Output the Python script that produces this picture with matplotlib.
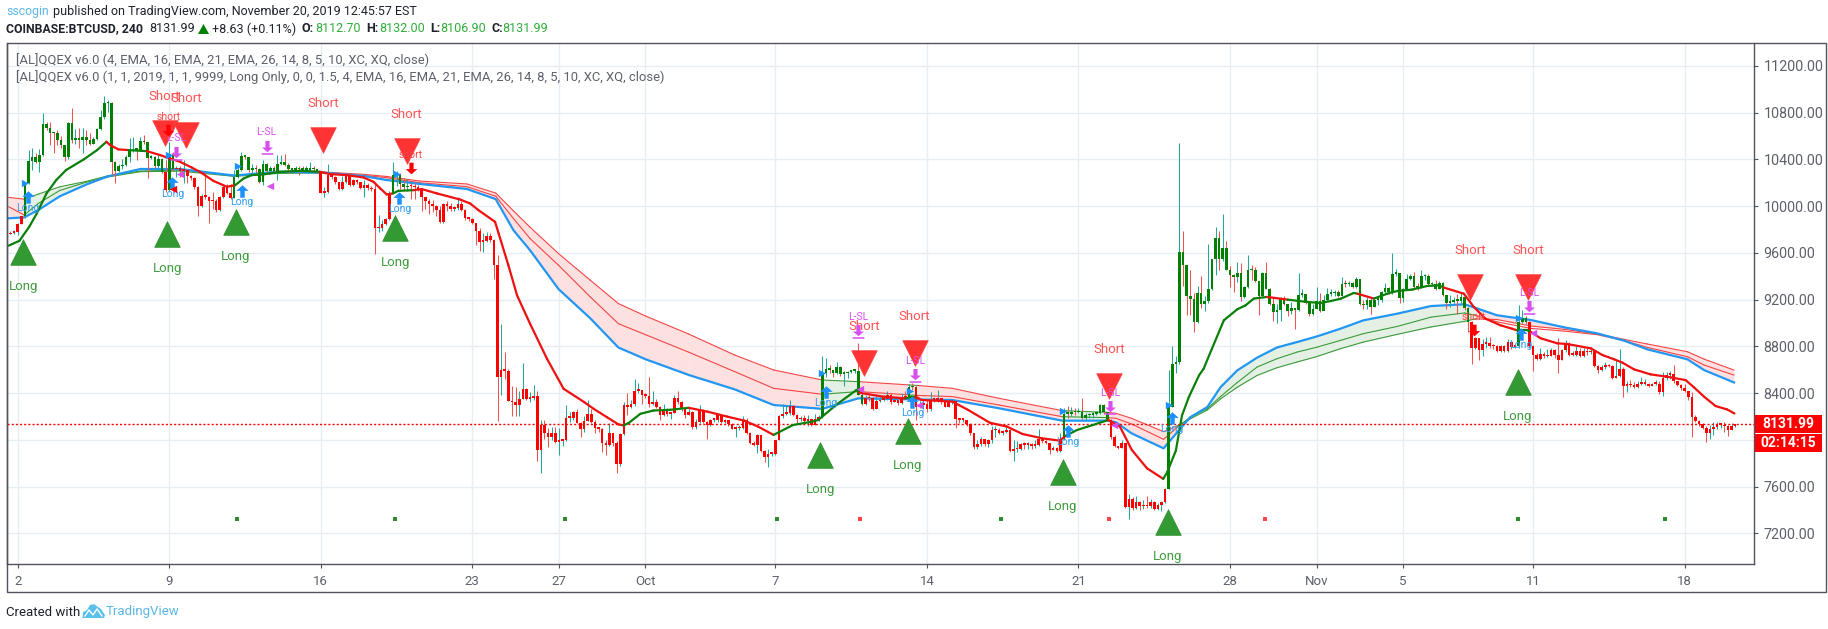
import numpy as np
import matplotlib
matplotlib.use("Agg")
import matplotlib.pyplot as plt
from matplotlib.path import Path
from matplotlib.patches import Polygon, Rectangle

plt.rcParams['font.family'] = ['Roboto', 'DejaVu Sans']

W, H = 1828, 629
FIRST_BAR = -2

# 4h candles, Sep 2 to Nov 20. each open is the previous close
closes = [
    9770, 9775,
    9850, 9914, 10194, 10386, 10417, 10380, 10437, 10700, 10665, 10630,
    10625, 10565, 10520, 10420, 10710, 10570, 10585, 10570, 10590, 10570,
    10535, 10575, 10660, 10760, 10880, 10885, 10380, 10300, 10340, 10350,
    10425, 10470, 10485, 10480, 10555, 10545, 10415, 10420, 10340, 10400,
    10295, 10135, 10450, 10315, 10330, 10300, 10310, 10260, 10240, 10165,
    10000, 10090, 10080, 10045, 10040, 9965, 10075, 10160, 10110, 10074,
    10250, 10310, 10430, 10425, 10310, 10320, 10315, 10210, 10365, 10300,
    10330, 10305, 10365, 10380, 10355, 10315, 10310, 10330, 10315, 10310,
    10310, 10320, 10315, 10290, 10115, 10120, 10270, 10250, 10210, 10150,
    10210, 10265, 10180, 10220, 10205, 10155, 10180, 10155, 10145, 9810,
    9815, 9850, 9890, 10110, 10265, 10270, 10190, 10160, 10175, 10170,
    10160, 10140, 10075, 10045, 10020, 10000, 9965, 9865, 10020, 10000,
    9980, 9985, 10020, 9970, 9895, 9890, 9855, 9790, 9694, 9705,
    9745, 9710, 9500, 8537, 8600, 8590, 8335, 8320, 8300, 8350,
    8435, 8350, 8355, 8375, 7915, 8130, 8060, 8020, 8055, 7985,
    7990, 8000, 8190, 8190, 8235, 8145, 8090, 8165, 8225, 8150,
    8105, 8095, 7975, 7955, 8055, 7970, 7790, 8050, 8300, 8280,
    8305, 8420, 8425, 8380, 8375, 8310, 8320, 8280, 8210, 8255,
    8225, 8230, 8360, 8325, 8260, 8215, 8240, 8110, 8155, 8250,
    8155, 8130, 8170, 8170, 8210, 8155, 8170, 8135, 8095, 8100,
    8105, 8170, 8060, 7970, 7955, 8040, 7905, 7855, 7880, 7880,
    7995, 8200, 8225, 8230, 8290, 8210, 8175, 8190, 8165, 8175,
    8130, 8175, 8195, 8570, 8610, 8600, 8570, 8620, 8565, 8570,
    8580, 8590, 8590, 8385, 8310, 8360, 8355, 8265, 8330, 8345,
    8350, 8385, 8320, 8340, 8315, 8370, 8360, 8455, 8450, 8280,
    8300, 8310, 8260, 8340, 8345, 8355, 8320, 8285, 8320, 8330,
    8175, 8170, 8170, 8135, 8055, 7940, 7960, 8005, 7965, 7995,
    8080, 8085, 8060, 8065, 8080, 7905, 7920, 7925, 7960, 7955,
    7955, 7950, 7955, 8005, 7990, 7970, 7915, 7930, 7905, 8010,
    8225, 8220, 8240, 8235, 8240, 8190, 8210, 8215, 8225, 8230,
    8300, 8235, 8170, 8025, 7945, 7930, 7970, 7425, 7490, 7420,
    7470, 7430, 7440, 7430, 7470, 7410, 7440, 7470, 7580, 8280,
    8645, 8670, 9610, 9495, 9230, 9205, 9010, 9260, 9160, 9185,
    9290, 9545, 9730, 9545, 9640, 9455, 9415, 9395, 9425, 9220,
    9305, 9455, 9450, 9360, 9235, 9430, 9295, 9165, 9095, 9110,
    9210, 9160, 9105, 9125, 9110, 9240, 9250, 9170, 9080, 9120,
    9190, 9100, 9200, 9250, 9255, 9265, 9230, 9335, 9330, 9345,
    9310, 9375, 9165, 9150, 9195, 9135, 9200, 9200, 9265, 9300,
    9265, 9420, 9425, 9215, 9290, 9380, 9405, 9310, 9300, 9400,
    9400, 9330, 9335, 9295, 9340, 9240, 9175, 9180, 9195, 9190,
    9220, 9125, 9010, 8790, 8870, 8765, 8820, 8825, 8805, 8800,
    8760, 8800, 8760, 8835, 8795, 8800, 9010, 9040, 9010, 8800,
    8725, 8695, 8735, 8715, 8720, 8765, 8725, 8680, 8770, 8815,
    8730, 8730, 8760, 8715, 8760, 8750, 8760, 8630, 8600, 8620,
    8640, 8630, 8525, 8545, 8610, 8460, 8470, 8465, 8450, 8480,
    8480, 8480, 8460, 8480, 8480, 8410, 8525, 8555, 8560, 8500,
    8470, 8440, 8420, 8370, 8197, 8165, 8135, 8105, 8060, 8090,
    8110, 8130, 8130, 8115, 8080, 8120, 8132,
]
highs = [
    9790, 9800,
    9860, 9920, 10200, 10480, 10494, 10451, 10486, 10794, 10723, 10723,
    10637, 10650, 10600, 10525, 10720, 10837, 10657, 10666, 10666, 10651,
    10623, 10594, 10670, 10823, 10943, 10908, 10890, 10390, 10360, 10400,
    10440, 10580, 10594, 10500, 10594, 10608, 10550, 10437, 10430, 10437,
    10410, 10394, 10550, 10460, 10340, 10340, 10394, 10320, 10270, 10250,
    10170, 10100, 10294, 10090, 10120, 10060, 10090, 10180, 10190, 10190,
    10310, 10340, 10465, 10437, 10420, 10360, 10350, 10325, 10394, 10370,
    10340, 10340, 10437, 10437, 10445, 10370, 10330, 10340, 10340, 10340,
    10340, 10380, 10340, 10320, 10295, 10165, 10360, 10280, 10260, 10210,
    10260, 10275, 10270, 10230, 10230, 10210, 10220, 10200, 10170, 10210,
    9925, 9880, 9900, 10130, 10380, 10300, 10280, 10240, 10230, 10200,
    10200, 10180, 10150, 10080, 10065, 10050, 10010, 10000, 10030, 10040,
    10030, 10000, 10075, 10040, 9980, 9910, 9900, 9860, 9810, 9770,
    9780, 9770, 9720, 9580, 8994, 8750, 8610, 8460, 8450, 8420,
    8660, 8440, 8410, 8465, 8420, 8170, 8170, 8100, 8110, 8110,
    8105, 8010, 8295, 8240, 8250, 8260, 8150, 8205, 8340, 8260,
    8170, 8110, 8100, 8000, 8140, 8060, 7990, 8060, 8320, 8400,
    8340, 8520, 8490, 8430, 8400, 8540, 8420, 8350, 8290, 8310,
    8270, 8240, 8380, 8420, 8330, 8270, 8280, 8250, 8180, 8300,
    8260, 8160, 8180, 8185, 8230, 8220, 8180, 8170, 8140, 8120,
    8130, 8200, 8190, 8070, 7990, 8050, 8045, 7910, 7925, 7900,
    8000, 8210, 8310, 8295, 8345, 8300, 8220, 8200, 8215, 8210,
    8180, 8220, 8210, 8717, 8700, 8640, 8600, 8670, 8630, 8585,
    8590, 8600, 8600, 8825, 8410, 8380, 8385, 8365, 8385, 8380,
    8385, 8415, 8400, 8370, 8360, 8400, 8415, 8480, 8490, 8460,
    8330, 8340, 8340, 8410, 8370, 8425, 8360, 8330, 8330, 8350,
    8340, 8180, 8180, 8170, 8140, 8060, 8000, 8020, 8010, 8005,
    8120, 8120, 8100, 8080, 8125, 8090, 8000, 7990, 7970, 7985,
    7985, 7975, 8000, 8095, 8000, 8000, 7975, 7950, 7940, 8055,
    8270, 8290, 8280, 8275, 8270, 8355, 8230, 8230, 8240, 8250,
    8310, 8310, 8240, 8180, 8040, 7950, 8000, 7975, 7535, 7510,
    7515, 7480, 7485, 7515, 7490, 7475, 7460, 7480, 7590, 8600,
    8800, 8720, 10537, 9790, 9500, 9455, 9255, 9320, 9400, 9235,
    9675, 9550, 9825, 9785, 9935, 9700, 9485, 9420, 9525, 9510,
    9320, 9580, 9500, 9480, 9360, 9440, 9525, 9300, 9220, 9165,
    9220, 9235, 9165, 9180, 9130, 9430, 9290, 9250, 9180, 9160,
    9310, 9260, 9240, 9300, 9290, 9280, 9280, 9390, 9365, 9360,
    9350, 9390, 9290, 9195, 9225, 9220, 9215, 9215, 9275, 9345,
    9310, 9600, 9465, 9430, 9300, 9420, 9420, 9440, 9345, 9450,
    9420, 9420, 9350, 9370, 9360, 9350, 9240, 9240, 9225, 9250,
    9255, 9240, 9135, 9020, 8880, 8870, 8865, 8880, 8880, 8820,
    8815, 8810, 8810, 8865, 8850, 8820, 9150, 9110, 9060, 9020,
    8810, 8740, 8790, 8750, 8775, 8790, 8780, 8870, 8780, 8855,
    8840, 8760, 8800, 8790, 8790, 8785, 8780, 8770, 8640, 8640,
    8670, 8650, 8640, 8680, 8775, 8620, 8500, 8510, 8495, 8505,
    8540, 8520, 8490, 8490, 8510, 8500, 8580, 8580, 8590, 8640,
    8505, 8480, 8480, 8420, 8410, 8210, 8170, 8140, 8120, 8130,
    8150, 8150, 8145, 8150, 8130, 8145, 8132,
]
lows = [
    9760, 9760,
    9750, 9845, 9900, 10190, 10309, 10370, 10294, 10430, 10650, 10523,
    10451, 10523, 10500, 10389, 10400, 10540, 10531, 10494, 10457, 10523,
    10520, 10530, 10570, 10650, 10750, 10808, 10266, 10194, 10290, 10320,
    10340, 10380, 10460, 10394, 10470, 10531, 10237, 10400, 10330, 10330,
    10280, 10120, 10130, 10300, 10250, 10250, 10194, 10200, 10220, 10150,
    9917, 9990, 10060, 9857, 9980, 9950, 9960, 10070, 10100, 10060,
    10070, 10240, 10300, 10400, 10290, 10270, 10280, 10195, 10180, 10290,
    10280, 10290, 10223, 10350, 10340, 10280, 10290, 10290, 10265, 10290,
    10290, 10290, 10295, 10280, 10110, 10075, 10110, 10230, 10190, 10140,
    10140, 10200, 10170, 10170, 10190, 10150, 10080, 10140, 10130, 9594,
    9780, 9790, 9840, 9880, 10110, 10170, 10150, 10140, 10130, 10065,
    10065, 10130, 9960, 9980, 9930, 9950, 9920, 9860, 9860, 9960,
    9960, 9960, 9970, 9960, 9880, 9870, 9850, 9665, 9614, 9610,
    9690, 9690, 9380, 8160, 8380, 8520, 8330, 8200, 8200, 8200,
    8350, 8340, 8320, 8340, 7823, 7715, 8010, 7935, 8000, 7970,
    7870, 7950, 7990, 8150, 8170, 8140, 8025, 8065, 8160, 8140,
    8060, 8070, 7895, 7870, 7945, 7950, 7720, 7780, 8040, 8210,
    8270, 8290, 8400, 8305, 8360, 8280, 8300, 8270, 8170, 8200,
    8200, 8180, 8230, 8310, 8250, 8190, 8210, 8090, 8090, 8140,
    8140, 8010, 8120, 8150, 8150, 8145, 8140, 8120, 8090, 8025,
    8080, 8090, 8050, 7960, 7945, 7885, 7900, 7810, 7770, 7860,
    7870, 8000, 8190, 8210, 8210, 8200, 8145, 8160, 8150, 8115,
    8120, 8125, 8165, 8185, 8540, 8570, 8540, 8560, 8550, 8460,
    8525, 8570, 8570, 8380, 8300, 8300, 8330, 8255, 8260, 8320,
    8330, 8340, 8310, 8320, 8300, 8310, 8350, 8350, 8430, 8170,
    8270, 8260, 8240, 8250, 8320, 8320, 8310, 8280, 8280, 8310,
    8097, 8140, 8155, 8120, 8040, 7925, 7920, 7950, 7950, 7940,
    7970, 8025, 8050, 8045, 8055, 7900, 7820, 7900, 7915, 7920,
    7920, 7925, 7930, 7945, 7970, 7960, 7880, 7910, 7900, 7900,
    8000, 8190, 8200, 8215, 8230, 8180, 8170, 8190, 8190, 8210,
    8225, 8220, 8160, 8010, 7935, 7925, 7930, 7420, 7320, 7400,
    7410, 7400, 7410, 7415, 7420, 7400, 7400, 7395, 7460, 7575,
    8280, 8570, 8650, 9320, 9065, 9065, 8920, 9000, 9125, 9100,
    9170, 9280, 9410, 9455, 9530, 9450, 9310, 9265, 9350, 9190,
    9210, 9300, 9365, 9350, 9065, 9225, 9290, 9150, 9015, 9000,
    9015, 9150, 9060, 9080, 8950, 9100, 9225, 9160, 9060, 9070,
    9120, 9090, 9170, 9190, 9230, 9230, 9220, 9230, 9310, 9320,
    9300, 9300, 9150, 9120, 9120, 9075, 9140, 9150, 9180, 9250,
    9250, 9250, 9400, 9170, 9180, 9280, 9370, 9300, 9280, 9300,
    9370, 9320, 9320, 9285, 9290, 9230, 9120, 9135, 9170, 9080,
    9170, 9110, 8920, 8650, 8780, 8680, 8715, 8790, 8790, 8780,
    8750, 8750, 8750, 8750, 8780, 8790, 8790, 9000, 8990, 8790,
    8590, 8680, 8680, 8700, 8710, 8720, 8700, 8570, 8680, 8750,
    8720, 8715, 8720, 8710, 8710, 8730, 8735, 8620, 8570, 8585,
    8610, 8620, 8520, 8530, 8540, 8370, 8410, 8450, 8440, 8440,
    8465, 8465, 8450, 8460, 8465, 8395, 8375, 8510, 8520, 8490,
    8460, 8430, 8410, 8340, 8025, 8150, 8120, 8090, 7985, 8010,
    8040, 8095, 8100, 8070, 8030, 8085, 8107,
]
first_open = 9760

# bars painted green by the strategy, the rest are red
bar_green_spans = [(2, 40), (42, 43), (60, 83), (104, 108), (223, 234), (247, 248), (290, 302), (319, 402), (416, 418)]

# fast line, thick, switches between green and red
fast_idx = [-2.5, 0.5, 3.2, 5.3, 8, 10.7, 13.4, 18.3, 22, 24.6, 25.6, 27.9, 30.7, 35.8, 39.5, 42.2, 45, 48.2, 50.5, 54.2, 58,
            60.3, 62.6, 64.9, 68, 72.7, 78.3, 83.8, 86.6, 91.2, 95.8, 98.6, 100.5, 102.3, 104, 105.5, 109.7, 112, 116.2,
            122.6, 125.4, 127.7, 132.3, 133.3, 136, 138.4, 142, 146.7, 151.3, 157, 159.6, 163.3, 166.5, 167.9, 169.3,
            172.6, 176.2, 180.9, 186, 191.2, 196.6, 201.4, 205.2, 209.5, 214.9, 220.3, 221.9, 226.8, 232.5, 233.2, 239.7,
            246.2, 247.8, 248.9, 250.5, 259.1, 263.4, 269.4, 274.2, 278.5, 283.9, 288.8, 290.4, 293.6, 298, 302.3, 305.5,
            308.8, 313, 317.5, 318.6, 321, 322.7, 324.6, 327.4, 328.7, 331, 334.3, 338, 340.3, 342.6, 346.3, 352, 357.4,
            361.1, 363.9, 366.7, 370.3, 371.3, 375.9, 379.6, 382.4, 386.5, 390.7, 393.9, 395.3, 400.8, 403.6, 406.8, 411,
            414.2, 415.6, 418.4, 419.3, 422.1, 426.7, 429.5, 436, 439.2, 442.5, 444.8, 448, 452.6, 457.2, 462.3, 464.6,
            467.4, 470.6, 473.8, 475.8]
fast_val = [9662, 9704, 9824, 9938, 10110, 10224, 10309, 10400, 10480, 10551, 10523, 10486, 10480, 10471, 10437, 10408, 10380, 10331, 10294, 10217, 10166,
            10180, 10237, 10266, 10271, 10294, 10303, 10294, 10274, 10266, 10246, 10209, 10151, 10100, 10109, 10131, 10137, 10146, 10109,
            10057, 10023, 9966, 9866, 9766, 9494, 9237, 8994, 8694, 8437, 8323, 8266, 8194, 8132, 8123, 8143,
            8223, 8251, 8257, 8274, 8241, 8199, 8164, 8113, 8042, 8127, 8156, 8170, 8298, 8427, 8404, 8370,
            8355, 8370, 8370, 8341, 8327, 8256, 8147, 8113, 8050, 8013, 7993, 8033, 8084, 8127, 8170, 8113,
            7913, 7756, 7666, 7723, 7908, 8209, 8366, 8551, 8609, 8780, 9023, 9117, 9151, 9209, 9223, 9200, 9180,
            9171, 9188, 9208, 9257, 9251, 9209, 9251, 9274, 9286, 9317, 9323, 9303, 9251, 9137, 9037, 8980,
            8951, 8937, 8937, 8925, 8869, 8826, 8820, 8783, 8726, 8689, 8660, 8603, 8560, 8540, 8511, 8449,
            8369, 8289, 8260, 8226]
fast_green_spans = [(-3, 25), (30, 35), (60, 84), (104, 110), (168, 186), (210, 233), (247, 249), (290, 303), (317.5, 347), (353, 371.5), (377, 395), (415, 419)]

# slow band: blue edge plus two thin lines, all read at the same bars
band_idx = [-2.5, 1.8, 5.7, 11.7, 19, 25, 34, 45, 60, 72, 85, 96, 102, 111.5, 124.5, 132.5, 137.4, 142, 149.9, 158.7,
            166.5, 174, 186, 198.7, 209.5, 223, 233, 247, 249.5, 259, 272, 289.5, 302, 304.4, 308.7, 317.6, 321.4, 325,
            329.7, 333.4, 338, 343.5, 349, 354.6, 360.2, 366.6, 373, 382.4, 391.7, 401, 404, 410, 419.3, 428.6, 437.8,
            445.2, 451.7, 462.8, 467.4, 475.7]
band_blue = [9896, 9904, 9967, 10085, 10185, 10255, 10318, 10318, 10262, 10295, 10286, 10257, 10225, 10190, 10147, 10060, 9794, 9623, 9290, 9040,
             8790, 8690, 8555, 8432, 8298, 8265, 8355, 8347, 8345, 8341, 8270, 8164, 8164, 8150, 8056, 7927, 8066, 8194,
             8280, 8451, 8594, 8703, 8790, 8837, 8886, 8951, 9023, 9080, 9145, 9160, 9130, 9066, 9026, 8963, 8911,
             8849, 8774, 8689, 8597, 8491]
band_mid = [9995, 9924, 10023, 10135, 10205, 10250, 10295, 10300, 10255, 10280, 10285, 10262, 10245, 10200, 10167, 10085, 9894, 9723, 9494, 9223,
            8994, 8900, 8750, 8584, 8441, 8390, 8413, 8385, 8380, 8370, 8298, 8198, 8190, 8184, 8136, 8004, 8109, 8194,
            8266, 8371, 8490, 8623, 8694, 8751, 8794, 8851, 8909, 8971, 9050, 9086, 9065, 9010, 8954, 8931, 8900,
            8849, 8791, 8711, 8640, 8554]
band_outer = [10075, 10060, 10103, 10166, 10212, 10260, 10300, 10310, 10262, 10285, 10292, 10272, 10255, 10215, 10190, 10112, 9960, 9820, 9594, 9366,
              9166, 9060, 8905, 8726, 8598, 8512, 8498, 8470, 8465, 8441, 8355, 8250, 8235, 8227, 8184, 8070, 8120, 8180,
              8255, 8351, 8450, 8551, 8617, 8666, 8714, 8780, 8837, 8903, 8966, 9014, 9035, 9030, 8974, 8946, 8906,
              8860, 8820, 8754, 8691, 8597]
band_green_spans = [(1.8, 85), (223, 233), (247, 249.5), (289.5, 302), (321.4, 404)]

# signals: bar index and price of each mark
long_idx = [1.6, 41.5, 60.5, 104.6, 222.5, 246.7, 289.6, 318.7, 415.7]
long_price = [9610, 9762, 9864, 9813, 7870, 8076, 7725, 7297, 8495]
short_idx = [40.7, 46.6, 84.7, 107.8, 234.7, 248.6, 302.5, 402.6, 418.6]
short_price = [10626, 10609, 10566, 10472, 8658, 8743, 8461, 9308, 9308]
arrow_idx = [2.9, 42.9, 62.1, 105.8, 223.9, 248, 291, 319.8, 416.7]
arrow_price = [10078, 10198, 10130, 10070, 8409, 8323, 8075, 8187, 8906]
flag_idx = [2.1, 42, 61.1, 105.1, 222.9, 247.2, 289.7, 319.1, 416]
flag_price = [10198, 10438, 10344, 10275, 8572, 8418, 8246, 8298, 9043]
stop_idx = [43.9, 69, 232.9, 248.8, 302.8, 419]
stop_price = [10455, 10506, 8930, 8554, 8280, 9136]
stop_flag_idx = [45, 69.8, 233.5, 249.7, 303.9, 419.9]
stop_flag_price = [10275, 10173, 8434, 8298, 8127, 8914]
small_short_idx = [41.7, 108.9, 403.5]
small_short_price = [10652, 10327, 8940]
small_short_flag_idx = [43]
small_short_flag_price = [10147]
dot_green_idx = [60.7, 104.6, 151.6, 210.5, 272.6, 415.7, 456.7]
dot_red_idx = [233.5, 302.5, 345.7]
dot_price = 7320

# axis labels
price_ticks = [7200, 7600, 8000, 8400, 8800, 9200, 9600, 10000, 10400, 10800, 11200]
tick_days = [0, 7, 14, 21, 25, 29, 35, 42, 49, 56, 60, 64, 70, 77]
tick_labels = ['2', '9', '16', '23', '27', 'Oct', '7', '14', '21', '28', 'Nov', '5', '11', '18']
last_price = 8131.99

UP_WICK = '#26a69a'
DOWN_WICK = '#ef5350'
GREEN = '#008000'
RED = '#ff0000'
BLUE = '#2196f3'
PURPLE = '#d84fee'
GRID = '#e6eef4'
FRAME = '#50535e'
TEXT_GREY = '#5d606b'

# chart area in pixels
LEFT, RIGHT, TOP, BOTTOM = 6.6, 1754, 43, 564
BAR_PX = 3.608
X0_PX = 17.7
PRICE_PX = 0.11683


def in_spans(x, spans):
    return any(a <= x <= b for a, b in spans)


def px_text(x, y, s, **kw):
    """Figure text placed in image pixels."""
    kw.setdefault('va', 'center')
    kw.setdefault('fontsize', 9)
    return fig.text(x / W, 1 - y / H, s, **kw)


def mark_label(idx, price, text, dy, color, size):
    for i, p in zip(idx, price):
        ax.annotate(text, (i, p), xytext=(0, dy), textcoords='offset points', ha='center', va='center',
                    color=color, fontsize=size, zorder=8)


fig = plt.figure(figsize=(W / 100, H / 100), dpi=100)
ax = fig.add_axes([LEFT / W, 1 - BOTTOM / H, (RIGHT - LEFT) / W, (BOTTOM - TOP) / H])
ax.set_xlim((LEFT - X0_PX) / BAR_PX, (RIGHT - X0_PX) / BAR_PX)
ax.set_ylim(10800 - (BOTTOM - 112.7) / PRICE_PX, 10800 + (112.7 - TOP) / PRICE_PX)

ax.set_axisbelow(True)
ax.grid(True, color=GRID, lw=1)
ax.set_yticks(price_ticks)
ax.set_yticklabels([f'{p:.2f}' for p in price_ticks])
ax.yaxis.tick_right()
ax.set_xticks([d * 6 for d in tick_days])
ax.set_xticklabels(tick_labels)
ax.tick_params(axis='both', colors=FRAME, labelcolor=TEXT_GREY, labelsize=9.5, length=3, width=0.8, pad=5)
ax.tick_params(axis='y', labelsize=10.3, pad=4)
ax.tick_params(axis='x', pad=5)
ax.spines['top'].set_visible(False)
for side in ['left', 'right', 'bottom']:
    ax.spines[side].set_color(FRAME)
    ax.spines[side].set_linewidth(1)

# band fill and lines, one piece per pair of knots
for k in range(len(band_idx) - 1):
    xs = band_idx[k:k + 2]
    green = in_spans((xs[0] + xs[1]) / 2, band_green_spans)
    ax.fill_between(xs, band_blue[k:k + 2], band_outer[k:k + 2], color='#e3f0e3' if green else '#fde0e0', lw=0, zorder=1)
    thin = '#3d9a3d' if green else '#f44545'
    ax.plot(xs, band_mid[k:k + 2], color=thin, lw=0.8, zorder=2, solid_capstyle='round')
    ax.plot(xs, band_outer[k:k + 2], color=thin, lw=0.8, zorder=2, solid_capstyle='round')
ax.plot(band_idx, band_blue, color=BLUE, lw=1.6, zorder=2, solid_joinstyle='round')

# candles
bar_idx = np.arange(FIRST_BAR, FIRST_BAR + len(closes))
c = np.array(closes, dtype=float)
o = np.r_[first_open, c[:-1]]
wick_colors = [UP_WICK if b >= a else DOWN_WICK for a, b in zip(o, c)]
ax.vlines(bar_idx, lows, highs, colors=wick_colors, lw=0.75, zorder=3)
body_colors = [GREEN if in_spans(i, bar_green_spans) else RED for i in bar_idx]
body_low = np.minimum(o, c)
body_height = np.maximum(np.abs(c - o), 14)
ax.bar(bar_idx, body_height, bottom=body_low, width=0.72, color=body_colors, lw=0, zorder=4)

ax.axhline(last_price, color=RED, lw=1, ls=(0, (1.5, 1.5)), zorder=5)

# fast line
for k in range(len(fast_idx) - 1):
    xs = fast_idx[k:k + 2]
    green = in_spans((xs[0] + xs[1]) / 2, fast_green_spans)
    ax.plot(xs, fast_val[k:k + 2], color='#0a800a' if green else '#f01010', lw=1.6, zorder=5, solid_capstyle='round')

# custom arrow shapes for the small signals
up_arrow = Path([(-0.18, -0.5), (0.18, -0.5), (0.18, 0.05), (0.5, 0.05), (0, 0.5), (-0.5, 0.05), (-0.18, 0.05), (-0.18, -0.5)], closed=True)
down_arrow = Path([(-0.18, 0.5), (0.18, 0.5), (0.18, -0.05), (0.5, -0.05), (0, -0.5), (-0.5, -0.05), (-0.18, -0.05), (-0.18, 0.5)], closed=True)
stop_arrow = Path([(-0.16, 0.5), (0.16, 0.5), (0.16, 0.0), (0.42, 0.0), (0, -0.36), (-0.42, 0.0), (-0.16, 0.0), (-0.16, 0.5),
                   (-0.45, -0.44), (0.45, -0.44), (0.45, -0.56), (-0.45, -0.56), (-0.45, -0.44)],
                  [Path.MOVETO] + [Path.LINETO] * 6 + [Path.CLOSEPOLY, Path.MOVETO] + [Path.LINETO] * 3 + [Path.CLOSEPOLY])

ax.scatter(long_idx, long_price, marker='^', s=340, color='#339933', edgecolors='#2a8a2a', lw=0.5, zorder=7)
ax.scatter(short_idx, short_price, marker='v', s=340, color='#ff3333', edgecolors='#f44', lw=0.5, zorder=7)
mark_label(long_idx, long_price, 'Long', -25, '#3f9b3f', 9.5)
mark_label(short_idx, short_price, 'Short', 26.5, '#ff5252', 9.5)

ax.scatter(arrow_idx, arrow_price, marker=up_arrow, s=80, color='#1e90ff', lw=0, zorder=8)
ax.scatter(flag_idx, flag_price, marker='>', s=28, color='#1e90ff', lw=0, zorder=8)
mark_label(arrow_idx, arrow_price, 'Long', -8, '#2f9bf5', 7.5)
ax.scatter(stop_idx, stop_price, marker=stop_arrow, s=110, color=PURPLE, lw=0, zorder=8)
ax.scatter(stop_flag_idx, stop_flag_price, marker='<', s=28, color=PURPLE, lw=0, zorder=8)
mark_label(stop_idx, stop_price, 'L-SL', 10.5, PURPLE, 7.5)
ax.scatter(small_short_idx, small_short_price, marker=down_arrow, s=70, color=RED, lw=0, zorder=8)
ax.scatter(small_short_flag_idx, small_short_flag_price, marker='<', s=28, color=RED, lw=0, zorder=8)
mark_label(small_short_idx, small_short_price, 'short', 9.5, '#f44', 7.5)

ax.scatter(dot_green_idx, [dot_price] * len(dot_green_idx), marker='s', s=5, color='#2e8b2e', lw=0, zorder=6)
ax.scatter(dot_red_idx, [dot_price] * len(dot_red_idx), marker='s', s=5, color='#f44', lw=0, zorder=6)

# study legend
px_text(15.5, 60, '[AL]QQEX v6.0 (4, EMA, 16, EMA, 21, EMA, 26, 14, 8, 5, 10, XC, XQ, close)', color=TEXT_GREY, fontsize=9.4)
px_text(15.5, 77, '[AL]QQEX v6.0 (1, 1, 2019, 1, 1, 9999, Long Only, 0, 0, 1.5, 4, EMA, 16, EMA, 21, EMA, 26, 14, 8, 5, 10, XC, XQ, close)',
        color=TEXT_GREY, fontsize=9.4)

# frame around the axis strips
fig.add_artist(Rectangle((LEFT / W, 1 - 592 / H), (1826 - LEFT) / W, (592 - TOP) / H, transform=fig.transFigure,
                         fill=False, ec=FRAME, lw=1))

# last price tags on the scale
fig.add_artist(Rectangle((1755 / W, 1 - 433 / H), 67 / W, 18 / H, transform=fig.transFigure, fc=RED, ec='none'))
fig.add_artist(Rectangle((1755 / W, 1 - 452 / H), 67 / W, 18 / H, transform=fig.transFigure, fc=RED, ec='none'))
px_text(1788.5, 424, f'{last_price:.2f}', color='white', fontsize=10, fontweight='bold', ha='center')
px_text(1788.5, 443, '02:14:15', color='white', fontsize=10, fontweight='bold', ha='center')

# header
DARK = '#1e222d'
VAL = '#2fae3b'
px_text(6, 12, 'sscogin', color='#5bb7e6', fontsize=8.8)
px_text(53, 12, 'published on TradingView.com, November 20, 2019 12:45:57 EST', color=DARK, fontsize=9)
px_text(6, 29, 'COINBASE:BTCUSD, 240', color=DARK, fontsize=8.8, fontweight='bold')
px_text(149.4, 29, '8131.99', color=DARK, fontsize=9)
fig.add_artist(Polygon([(198 / W, 1 - 34 / H), (209 / W, 1 - 34 / H), (203.5 / W, 1 - 24 / H)], transform=fig.transFigure, fc=GREEN, ec='none'))
px_text(212, 29, '+8.63 (+0.11%)', color=DARK, fontsize=9)
for label_x, label, value_x, value in [(301.5, 'O:', 315, '8112.70'), (366, 'H:', 379, '8132.00'),
                                       (430, 'L:', 440, '8106.90'), (491, 'C:', 502, '8131.99')]:
    px_text(label_x, 29, label, color=DARK, fontsize=9, fontweight='bold')
    px_text(value_x, 29, value, color=VAL, fontsize=9)

# footer with the little cloud logo
px_text(6, 612, 'Created with', color=DARK, fontsize=9.5)
cloud = [(82.5, 618), (83, 612), (87, 610), (90, 605), (94, 604), (98, 607), (101, 609), (105, 615), (104, 618)]
fig.add_artist(Polygon([(x / W, 1 - y / H) for x, y in cloud], transform=fig.transFigure, fc='#5cc1ea', ec='none'))
zig = [(85, 616), (89, 610), (93, 615), (97, 609), (102, 616)]
fig.add_artist(plt.Line2D([x / W for x, y in zig], [1 - y / H for x, y in zig], transform=fig.transFigure, color='white', lw=1))
px_text(106, 612, 'TradingView', color='#5bb7e6', fontsize=9.5)

fig.savefig('out.png', dpi=100)
